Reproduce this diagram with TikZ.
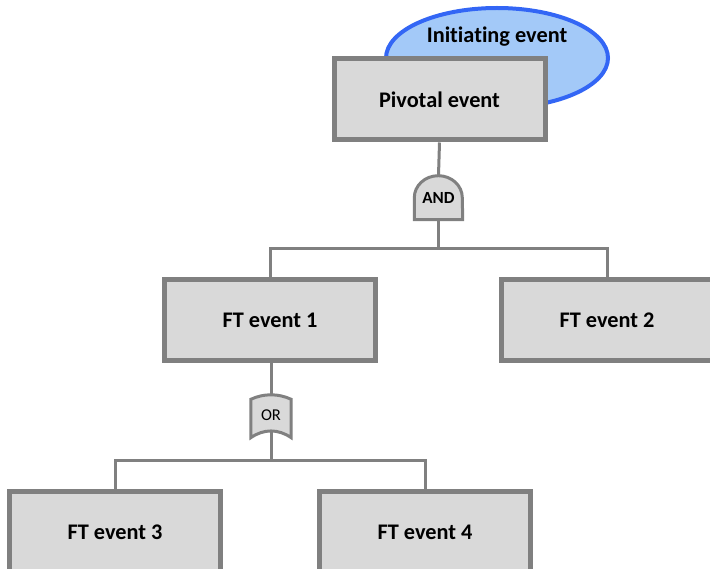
\documentclass[tikz,border=0pt]{standalone}
\usepackage{fontspec}
\setmainfont{Carlito}[Ligatures={NoCommon}]
\usetikzlibrary{shapes.geometric,backgrounds,calc}
\definecolor{boxfill}{HTML}{D9D9D9}
\definecolor{boxline}{HTML}{808080}
\definecolor{initfill}{HTML}{A3C9F8}
\definecolor{initline}{HTML}{3366F5}
\tikzset{
  labelfont/.style={font=\fontsize{22.3}{26}\selectfont\bfseries},
  eventbox/.style={draw=boxline, fill=boxfill, line width=5pt,
    minimum width=211pt, minimum height=81pt, inner sep=0pt, labelfont},
  gatenode/.style={minimum width=#1, minimum height=44pt, inner sep=0pt},
  gateline/.style={draw=boxline, fill=boxfill, line width=3pt},
  wire/.style={draw=boxline, line width=3pt},
  initbubble/.style={ellipse, draw=initline, fill=initfill, line width=4pt,
    minimum width=222pt, minimum height=100pt, inner sep=0pt}
}
\begin{document}
\begin{tikzpicture}[x=1pt,y=1pt]
\clip (0,-569) rectangle (710,0);

% initiating event bubble behind the pivotal event
\node[initbubble] (init) at (497,-58) {};
\node[labelfont] (initlabel) at (497,-37) {Initiating event};

% event boxes
\node[eventbox] (piv) at (439.5,-99.5) {Pivotal event};
\node[eventbox] (ft1) at (270,-320) {FT event 1};
\node[eventbox] (ft2) at (607,-320) {FT event 2};
\node[eventbox] (ft3) at (115,-532) {FT event 3};
\node[eventbox] (ft4) at (425,-532) {FT event 4};

% gates
\node[gatenode=48pt, font=\fontsize{17}{20}\selectfont\bfseries] (andg) at (438.5,-197.5) {AND};
\node[gatenode=40pt, font=\fontsize{16.5}{19}\selectfont] (org) at (271,-415.5) {OR};
\begin{scope}[on background layer]
  \fill[white] (0,-569) rectangle (710,0);
  \draw[gateline] (andg.south west) -- ++(0,22)
    arc[start angle=180, end angle=0, x radius=24, y radius=22]
    -- (andg.south east) -- cycle;
  \draw[gateline] (org.south west) -- ($(org.north west)+(0,-6)$)
    .. controls ($(org.north west)+(13,0)$) and ($(org.north east)+(-13,0)$)
    .. ($(org.north east)+(0,-6)$) -- (org.south east)
    .. controls ($(org.south east)+(-13,9)$) and ($(org.south west)+(13,9)$)
    .. (org.south west) -- cycle;
\end{scope}

% connectors
\coordinate (andjoin) at (438.5,-249);
\coordinate (orjoin) at (271,-460);
\draw[wire] (piv.south) -- (andg.north);
\draw[wire] (andg.south) -- (andjoin);
\draw[wire] (andjoin) -| (ft1.north);
\draw[wire] (andjoin) -| (ft2.north);
\draw[wire] (ft1.south -| org.north) -- ($(org.north)+(0,-1)$);
\draw[wire] ($(org.south)+(0,7)$) -- (orjoin);
\draw[wire] (orjoin) -| (ft3.north);
\draw[wire] (orjoin) -| (ft4.north);
\end{tikzpicture}
\end{document}
